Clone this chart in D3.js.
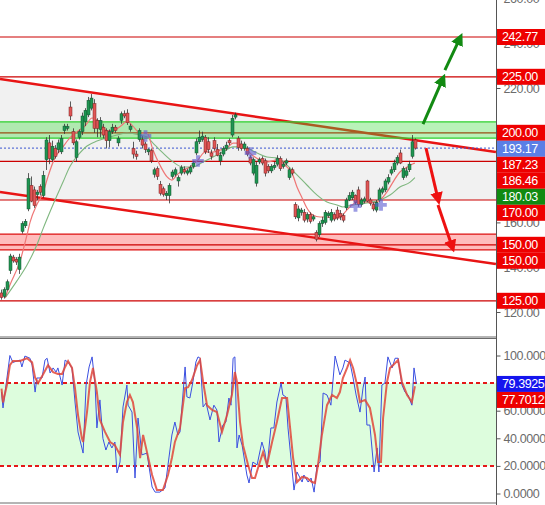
<!DOCTYPE html>
<html><head><meta charset="utf-8">
<script src="https://cdn.jsdelivr.net/npm/d3@7"></script>
<style>html,body{margin:0;padding:0;background:#fff;} svg{display:block;font-family:"Liberation Sans",Arial,sans-serif;}</style>
</head><body><svg id="c" width="545" height="505"></svg>
<script>
// ---------- DATA ----------
const opens =[128.5,127,130,138.5,144.5,143.5,139,156,158.5,166,176.5,174.5,172.5,176,172,188,195.5,188,193,192.5,191.5,201,202,211.5,200.5,189,198,200.5,205,208,211,213,205.5,201.5,202.5,201,196.5,200.5,202.5,195.5,205.5,208.5,208.8,201.5,193,190.5,197,197,195,191.5,192,181.5,184,177,175,172,172,180.5,181.5,178.5,182,183.5,182,182.5,185,191,196,197,198,196,191,196.5,192.5,187.5,190.5,193,196.5,199,207,197.5,195,193,193,189,182,177.5,187,188.5,187.5,185,183,184.5,186,188.5,185,186.5,180,183.5,168,162,164.5,164.5,161.5,163.5,161.5,155.5,154.5,159.5,160,163,161,163.5,165.5,164,163,166.5,170,171,172,174.5,168,169.5,178.5,170,168,165.5,170,173.5,174.5,178,182,183.5,186.5,191,180,181,183.5,189.5,196.8];
const highs =[130,131,134.5,146,145.5,144.5,146,160.5,161.5,182,180.5,176,174.5,177,183,198,199,196.5,194.5,197,199,204,204,214,202,197,201.5,209,211,216,217.3,215,206.5,207,204,202,201.5,204,203.5,198.5,209.5,210,210.5,204,196,192,202,198.5,196,193,193,184.5,185,178.5,176,174,177.5,183.5,184.5,181,185.5,185,184,185.5,187.5,197.5,201,200.5,199,198,192.5,198,195,191.5,194,196,197.5,208,209,198.5,196.5,196,194,190,189,187,189,189.5,188.5,186,186,187,190,189.5,187,188.5,184.5,184.5,169,167.5,166.5,166,164.5,164.5,163.5,156.5,160.5,162.5,165.5,165,166,164.5,167,165.5,164,171,173.5,174.5,172.5,176,171,171.5,179,171,169,170,175.5,176,179.5,181.5,185,188,190,192.5,185,184.5,187.5,199,197.5];
const lows  =[125.5,126,129.5,137,142,141,137,155,157.5,165,169,166.5,170,172,171,183.4,186,187,188.5,191,190.5,199.5,201,205.7,194.5,187,197,199,203,207,210,200,198,198,197.5,193,193.5,199.5,200,194,204,206.5,203.5,200.5,188.5,188,196,193,191,190,186.5,180,179,172,171.5,170,168.5,179.5,180.5,176,181,181.5,181,181.5,184,190,195,196,190.5,191,188,192,189.5,185.5,189.5,192,194.5,198,206,192,192,192,189.5,185.5,181,176,186,185.5,180.5,182,182,183.5,185,183,184,185.5,179,181,161.5,160.5,163,160,160,159.5,160.5,151.5,153.5,158,159,162,160,160.5,161,161,160,165.5,169.5,170,168,167,167,168.5,169,167.5,165,164.5,169,172.5,173.5,177,181,182.5,185.5,186,179,180,182.5,188.5,192.5];
const closes=[126.5,130,133.5,145,142.8,142.3,144.5,159.5,160.5,179.5,169.5,167.5,173.5,173.5,181,196.8,188.5,194,189.5,195.5,197.5,203,202.8,207.5,195.5,196,200.5,207.5,210,214.5,215.5,202,202,205.5,199,196.5,200.5,202.5,201,197.5,208.5,207.5,204.5,203,190.5,189.5,201,194.5,192.5,192.5,187.5,183.5,180.5,173,172.5,173,176.5,182.5,183.5,180,184.5,182.5,183,184.5,186.5,196,198,198.5,191.5,192.5,189.5,193,190,190,193,194.5,195.5,206.5,208,193.5,193,195,190.5,186.5,188,185.5,188,186.5,182,183,185,185.5,188.5,184,186,187.5,183.5,182,162.5,166,165.5,161,163.5,160.5,162.5,152.5,159.5,161,164.5,164,164.5,161.5,162,162.5,161,170,172,173.5,169,168,170,170.5,169.5,168.5,166,169,174.5,175,178.5,180,183.5,186.5,189,186.5,184,183,186,196,193.17];

// moving averages: [bar index, price]
const maFast=[[1.2,126.3],[2.8,132],[6.2,142.8],[8.5,154.4],[9.5,160],[11.8,168],[13.8,173],[15.5,180.5],[17.8,188.8],[20.2,193.2],[22.8,197.7],[25.5,200.8],[27.8,203],[30.2,206.6],[31.8,205.7],[33.5,203],[35.2,200.8],[37.8,201.3],[40.2,203.5],[41.8,205.3],[43.8,203],[46.2,199.9],[48.5,199.9],[50.5,192.3],[52.8,185.6],[55.2,180.3],[56.8,178.9],[58.5,181.2],[60.5,183.4],[62.8,184.7],[65.5,187.9],[67.8,191.4],[70.2,191.4],[72.8,192.3],[75.2,193.2],[77.2,195.4],[78.8,195.4],[81.2,193.2],[83.5,190.1],[86.2,187.9],[88.8,187],[91.8,187.9],[95.2,184.7],[96.8,182.1],[98.5,175.8],[100.2,170.9],[101.8,166.4],[103.8,163.3],[106.2,162.4],[108.5,162.4],[110.5,162],[112.8,162],[114.5,164.6],[116.8,167.8],[118.8,169.1],[121.8,169.1],[123.8,168.7],[126.2,170],[128.5,173.6],[130.5,178],[132.8,182.5],[135.2,184.7],[137.2,186.2],[137.8,186.46]];
const maSlow=[[1.2,126.3],[5.2,134],[8.5,141],[11.8,150],[13.8,157],[17.2,168],[20.5,178],[22.8,185],[25.5,190],[28.5,194.1],[31.8,196.3],[35.2,197.7],[38.5,199],[41.8,199.9],[46.2,199],[48.5,198.1],[50.5,195.4],[53.8,191],[57.2,187],[60.5,184.7],[63.8,184.7],[67.2,187],[70.5,189.2],[73.8,191.4],[77.2,193.7],[79.5,193.7],[81.8,193.2],[85.2,191],[88.5,189.2],[91.8,188.8],[95.2,185.6],[98.5,181.2],[101.8,176.7],[105.2,172.2],[108.5,169.1],[111.8,167.8],[113.8,166.9],[117.2,167.8],[121.8,168.7],[126.2,170],[129.5,172.2],[132.8,175.8],[136.2,178],[137.8,180.03]];

// stochastic: [bar index, value]
const stochK=[[0,73.5],[0.5,62],[2.8,100],[3.8,95],[6.2,96.7],[6.8,91.7],[7.8,99.6],[9.5,98],[10.2,93],[11.2,73.5],[11.8,83.7],[13.5,83.7],[14.5,96.7],[15.2,98],[16.2,87.3],[17.2,91],[18.2,88],[18.8,91],[20.2,78.6],[21.2,96.7],[22.2,95],[23.5,91],[24.5,66.3],[25.5,44.6],[27.2,29.3],[28.2,78.6],[29.2,91.7],[30.2,99],[31.2,78.6],[31.8,47.5],[32.8,67.8],[33.8,40],[34.8,31.5],[35.8,37.3],[36.8,33],[37.8,37.3],[38.5,14.9],[39.5,22.8],[40.5,62.7],[41.8,78.6],[42.2,64],[43.5,59],[44.5,11.2],[45.5,54.7],[46.8,28],[48.5,29.3],[50.2,4.7],[51.2,1],[52.8,1],[54.5,4],[55.5,20.7],[56.8,42.4],[57.8,51.8],[58.8,42.4],[59.5,44.6],[61.2,91.7],[61.8,70],[62.8,69.2],[63.8,80.8],[64.8,95.3],[65.5,99],[66.2,98],[67.2,62.7],[68.2,65.6],[69.5,53.3],[70.8,64],[71.8,60.5],[72.5,37.3],[73.8,49.6],[74.8,51.8],[75.8,69.2],[76.5,64],[77.2,98],[77.8,99],[78.5,33],[79.2,42.4],[80.2,35],[81.8,13.4],[82.5,7.6],[83.8,22.8],[85.2,20.7],[86.8,37.3],[87.8,30],[88.5,18.5],[89.8,47.5],[90.8,47.5],[91.8,66.3],[93.2,80],[93.8,71.4],[94.8,70],[95.5,47.5],[96.8,18.5],[97.5,2.5],[98.5,15.6],[100.2,8.3],[100.8,13.4],[102.2,8.3],[103.2,11.2],[104.2,1],[105.2,20.7],[106.2,22.8],[107.2,72.8],[108.5,71.4],[109.8,64],[111.2,99.6],[112.8,86],[113.8,91],[114.5,96.7],[116.2,94.5],[117.2,83.7],[118.2,71.4],[119.5,59],[120.5,76.4],[121.2,84.4],[121.8,49.6],[122.8,49.6],[124.2,15.6],[125.2,33],[125.8,15.6],[126.8,78.6],[127.8,80],[128.8,99],[130.2,91],[131.2,98],[132.2,98],[133.5,78.6],[134.5,73.5],[135.5,71.4],[136.8,64],[137.5,91],[138.3,79.3925]];
const stochD=[[0,76],[0.5,66],[1.8,78.6],[2.8,93],[3.8,96],[6.2,96],[8.5,98],[10.2,95],[11.2,84],[12.2,80],[13.8,86],[15.5,93],[17.2,88],[18.8,86.6],[20.2,86.6],[21.2,91.7],[22.2,96],[23.5,91],[24.5,76.4],[25.5,57],[26.8,40],[27.2,37.3],[28.5,59],[29.5,80.8],[30.5,91],[31.8,73.5],[32.8,53.3],[34.5,44.6],[36.2,37.3],[37.8,35],[39.5,28],[40.5,51.8],[41.8,66.3],[42.8,71.4],[43.8,66.3],[45.2,47.5],[46.2,25.7],[47.2,42.4],[48.5,30],[50.2,13.4],[51.8,2.5],[53.8,2.5],[55.5,13.4],[56.8,25.7],[57.8,37.3],[59.5,47.5],[61.2,76.4],[62.2,77],[63.5,82.2],[65.2,93],[66.2,96.7],[67.2,80.8],[68.5,64],[70.2,60.5],[71.8,59],[73.5,44.6],[75.2,57],[76.8,71.4],[77.8,88],[78.5,80.8],[79.5,51.8],[80.5,35],[82.2,20.7],[83.5,11.2],[84.5,11.2],[85.5,18.5],[87.2,30],[88.5,20.7],[90.2,37.3],[91.8,51.8],[93.5,69.2],[95.2,69.2],[96.2,47.5],[97.2,25.7],[98.5,8.3],[100.2,12],[101.8,11.2],[103.5,8.3],[104.5,7.6],[105.5,20.7],[106.8,42.4],[108.5,64],[110.2,71.4],[111.8,69.2],[112.8,73.5],[113.8,83.7],[115.2,91],[116.2,96.7],[117.2,91],[118.5,78.6],[119.5,66.3],[121.2,67.8],[122.8,62],[124.5,42.4],[125.5,22.8],[126.5,22.8],[127.2,54.7],[128.5,80.8],[129.5,91],[130.5,93],[132.2,96.7],[133.5,80.8],[135.2,71.4],[136.8,66.3],[137.8,77.7012]];

const levels=[242.77,225,200,187.23,170,150,125];
const greenZone=[197.6,204.9];
const redZone=[147.7,154.8];
const channelUpper=[[-0.5,224],[164.8,191.4]];
const channelLower=[[-0.5,173.6],[164.8,141.4]];
const shadeFloor=170;
const upArrows=[[140.5,203.9,146.5,222.2],[147.8,228,152.2,240.5]];
const downArrows=[[141.5,193.2,145.2,172.2],[145.5,167.8,149.8,150.8]];
const signals=[[48,198.6],[65.5,187.4],[83,191],[118,167.3],[126.5,167.8]];
const lastPrice=193.17;
const priceTicks=[260,240,220,200,180,160,140,120];
const priceLabels=[[242.77,"#ee0000"],[225,"#ee0000"],[200,"#ee0000"],[193.17,"#5b7fe6"],[187.23,"#ee0000"],[186.46,"#ee0000"],[180.03,"#118a11"],[170,"#ee0000"],[150,"#ee0000"],[150,"#ee0000"],[125,"#ee0000"]];
const stochTicks=[100,80,60,40,20,0];
const stochLevels=[80,20];
const stochLabels=[[79.3925,"#1515ee"],[77.7012,"#ee0000"]];

// ---------- LAYOUT ----------
const W=545, plotR=496, mainBottom=337, lowTop=338.5, lowBottom=503;
const svg=d3.select("#c");
const x=d3.scaleLinear().domain([0,165]).range([1.5,496.5]);
const y=d3.scaleLinear().domain([120,220]).range([312,88]);
const ys=d3.scaleLinear().domain([0,100]).range([493.5,355.5]);

const defs=svg.append("defs");
defs.append("clipPath").attr("id","cm").append("rect").attr("x",0).attr("y",0).attr("width",plotR).attr("height",mainBottom);
defs.append("clipPath").attr("id","cl").append("rect").attr("x",0).attr("y",lowTop).attr("width",plotR).attr("height",lowBottom-lowTop);
function marker(id,color){
  defs.append("marker").attr("id",id).attr("viewBox","0 0 10 10").attr("refX",2).attr("refY",5)
    .attr("markerWidth",4.2).attr("markerHeight",4.2).attr("orient","auto")
    .append("path").attr("d","M0,0L10,5L0,10z").attr("fill",color);
}
marker("ag","#128a12"); marker("ar","#ee1111");

const gm=svg.append("g").attr("clip-path","url(#cm)");
const lineFn=d3.line().x(d=>x(d[0])).y(d=>y(d[1]));

// shaded region between upper channel and floor
const u0=channelUpper[0], u1=channelUpper[1];
gm.append("path").attr("d",`M${x(u0[0])},${y(u0[1])}L${x(u1[0])},${y(u1[1])}L${x(u1[0])},${y(shadeFloor)}L${x(u0[0])},${y(shadeFloor)}Z`).attr("fill","#f1f1f1");

// red zone
gm.append("rect").attr("x",0).attr("width",plotR).attr("y",y(redZone[1])).attr("height",y(redZone[0])-y(redZone[1])).attr("fill","#ffbcbc");
// levels
levels.forEach(v=>gm.append("line").attr("x1",0).attr("x2",plotR).attr("y1",y(v)).attr("y2",y(v)).attr("stroke","#cc0000").attr("stroke-width",1.2));
redZone.forEach(v=>gm.append("line").attr("x1",0).attr("x2",plotR).attr("y1",y(v)).attr("y2",y(v)).attr("stroke","#dd1111").attr("stroke-width",1.2));
// channel lines
[channelUpper,channelLower].forEach(c=>gm.append("path").attr("d",lineFn(c)).attr("stroke","#e81414").attr("stroke-width",2.4).attr("fill","none"));
// green zone on top
gm.append("rect").attr("x",0).attr("width",plotR).attr("y",y(greenZone[1])).attr("height",y(greenZone[0])-y(greenZone[1])).attr("fill","rgb(60,220,60)").attr("fill-opacity",0.36);
greenZone.forEach(v=>gm.append("line").attr("x1",0).attr("x2",plotR).attr("y1",y(v)).attr("y2",y(v)).attr("stroke","#2fd02f").attr("stroke-width",1.2));
// last price dotted line
gm.append("line").attr("x1",0).attr("x2",plotR).attr("y1",y(lastPrice)).attr("y2",y(lastPrice)).attr("stroke","#3a55d0").attr("stroke-width",1).attr("stroke-dasharray","2,2");

// moving averages
gm.append("path").attr("d",d3.line().curve(d3.curveMonotoneX).x(d=>x(d[0])).y(d=>y(d[1]))(maSlow)).attr("fill","none").attr("stroke","#7fb77f").attr("stroke-width",1.1);
gm.append("path").attr("d",d3.line().curve(d3.curveMonotoneX).x(d=>x(d[0])).y(d=>y(d[1]))(maFast)).attr("fill","none").attr("stroke","#ef7676").attr("stroke-width",1.2);

// candles
const idx=d3.range(closes.length);
const cg=gm.append("g");
cg.selectAll("line.w").data(idx).join("line").attr("x1",i=>x(i)).attr("x2",i=>x(i)).attr("y1",i=>y(highs[i])).attr("y2",i=>y(lows[i])).attr("stroke","#333").attr("stroke-width",0.8);
cg.selectAll("rect.b").data(idx).join("rect")
  .attr("x",i=>x(i)-1.5).attr("width",3)
  .attr("y",i=>y(Math.max(opens[i],closes[i])))
  .attr("height",i=>Math.max(1,Math.abs(y(opens[i])-y(closes[i]))))
  .attr("fill",i=>closes[i]>=opens[i]?"#1f9552":"#e05656")
  .attr("stroke",i=>closes[i]>=opens[i]?"#12532f":"#7a2020").attr("stroke-width",0.5);

// signal crosses
gm.selectAll("path.s").data(signals).join("path").attr("d",d3.symbol(d3.symbolCross,75))
  .attr("transform",d=>`translate(${x(d[0])},${y(d[1])})`).attr("fill","#5a5ad0").attr("fill-opacity",0.6);

// arrows
upArrows.forEach(a=>svg.append("line").attr("x1",x(a[0])).attr("y1",y(a[1])).attr("x2",x(a[2])).attr("y2",y(a[3])).attr("stroke","#128a12").attr("stroke-width",3).attr("marker-end","url(#ag)"));
downArrows.forEach(a=>svg.append("line").attr("x1",x(a[0])).attr("y1",y(a[1])).attr("x2",x(a[2])).attr("y2",y(a[3])).attr("stroke","#ee1111").attr("stroke-width",3).attr("marker-end","url(#ar)"));

// ---------- LOWER PANEL ----------
const gl=svg.append("g").attr("clip-path","url(#cl)");
gl.append("rect").attr("x",0).attr("width",plotR).attr("y",ys(80)).attr("height",ys(20)-ys(80)).attr("fill","#ddfddd");
stochLevels.forEach(v=>gl.append("line").attr("x1",0).attr("x2",plotR).attr("y1",ys(v)).attr("y2",ys(v)).attr("stroke","#e41818").attr("stroke-width",2).attr("stroke-dasharray","4,3"));
const sl=d3.line().x(d=>x(d[0])).y(d=>ys(d[1]));
gl.append("path").attr("d",sl(stochK)).attr("fill","none").attr("stroke","#3b4fe0").attr("stroke-width",1);
gl.append("path").attr("d",sl(stochD)).attr("fill","none").attr("stroke","#e0473a").attr("stroke-width",2).attr("stroke-opacity",0.85);

// borders
svg.append("line").attr("x1",0).attr("x2",plotR).attr("y1",mainBottom).attr("y2",mainBottom).attr("stroke","#6a6a6a").attr("stroke-width",1);
svg.append("line").attr("x1",0).attr("x2",plotR).attr("y1",lowTop).attr("y2",lowTop).attr("stroke","#6a6a6a").attr("stroke-width",1);
svg.append("line").attr("x1",0).attr("x2",plotR).attr("y1",lowBottom).attr("y2",lowBottom).attr("stroke","#6a6a6a").attr("stroke-width",1);
svg.append("line").attr("x1",plotR+0.5).attr("x2",plotR+0.5).attr("y1",0).attr("y2",505).attr("stroke","#555").attr("stroke-width",1);

// ---------- AXES ----------
const ax1=svg.append("g").attr("transform",`translate(${plotR+0.5},0)`)
  .call(d3.axisRight(y).tickValues(priceTicks).tickFormat(d3.format(".2f")).tickSize(4).tickPadding(3));
const ax2=svg.append("g").attr("transform",`translate(${plotR+0.5},0)`)
  .call(d3.axisRight(ys).tickValues(stochTicks).tickFormat(d3.format(".4f")).tickSize(4).tickPadding(3));
[ax1,ax2].forEach(a=>{a.select(".domain").remove();a.selectAll("line").attr("stroke","#555");
  a.selectAll("text").attr("fill","#6b6b6b").attr("font-size",12.5).attr("letter-spacing",-0.4).attr("font-family","Liberation Sans, Arial, sans-serif");});

function drawLabels(list,scale,fmt){
  const h=16;
  const items=list.map(d=>({v:d[0],c:d[1],y:scale(d[0])})).sort((a,b)=>a.y-b.y);
  let prev=-1e9;
  items.forEach(it=>{it.cy=Math.max(it.y,prev+h);prev=it.cy;});
  const g=svg.append("g");
  items.forEach(it=>{
    g.append("rect").attr("x",plotR+1).attr("y",it.cy-h/2).attr("width",W-plotR).attr("height",h).attr("fill",it.c);
    g.append("text").attr("x",plotR+6).attr("y",it.cy).attr("dy","0.36em").attr("fill","#fff").attr("font-size",12.5).attr("letter-spacing",-0.4).text(fmt(it.v));
  });
}
drawLabels(priceLabels,y,d3.format(".2f"));
drawLabels(stochLabels,ys,d3.format(".4f"));
</script></body></html>
